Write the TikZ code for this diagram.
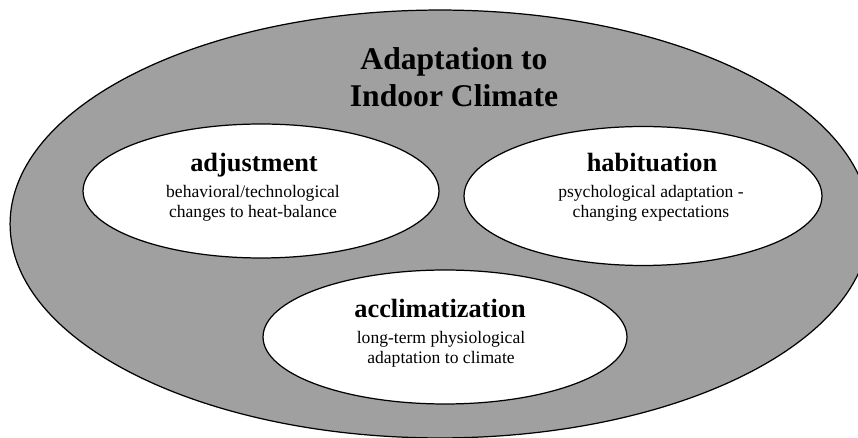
\documentclass[tikz,border=0pt]{standalone}
\usepackage{fontspec}
\setmainfont{Liberation Serif}
\usetikzlibrary{shapes.geometric}
\definecolor{shell}{HTML}{A0A0A0}

\begin{document}
\begin{tikzpicture}[x=0.02cm,y=-0.02cm,
  bubble/.style={ellipse,draw=black,line width=0.7pt,fill=white,inner sep=0pt},
  heading/.style={anchor=base,inner sep=0pt,font=\fontsize{15}{17}\selectfont\bfseries},
  note/.style={anchor=north,inner sep=0pt,align=center,font=\fontsize{10}{11.3}\selectfont}]
\useasboundingbox (0,0) rectangle (858,438);
\clip (0,0) rectangle (858,438);
\node[bubble,fill=shell,minimum width=17.2cm,minimum height=8.56cm] (climate) at (440,224) {};
\node[inner sep=0pt,align=center,font=\fontsize{18}{21}\selectfont\bfseries] (title) at (454,77) {Adaptation to\\Indoor Climate};
% inner ellipses
\node[bubble,minimum width=7.12cm,minimum height=2.68cm] (adjustment) at (261,191) {};
\node[bubble,minimum width=7.16cm,minimum height=2.78cm] (habituation) at (643,196) {};
\node[bubble,minimum width=7.28cm,minimum height=2.68cm] (acclimatization) at (445,337) {};
\node[heading] (adjhead) at (254,172) {adjustment};
\node[note] (adjnote) at (253,185) {behavioral/technological\\changes to heat-balance};
\node[heading] (habhead) at (652,172) {habituation};
\node[note] (habnote) at (651,185) {psychological adaptation -\\changing expectations};
\node[heading] (acchead) at (440,318) {acclimatization};
\node[note] (accnote) at (441,331) {long-term physiological\\adaptation to climate};
\end{tikzpicture}
\end{document}
